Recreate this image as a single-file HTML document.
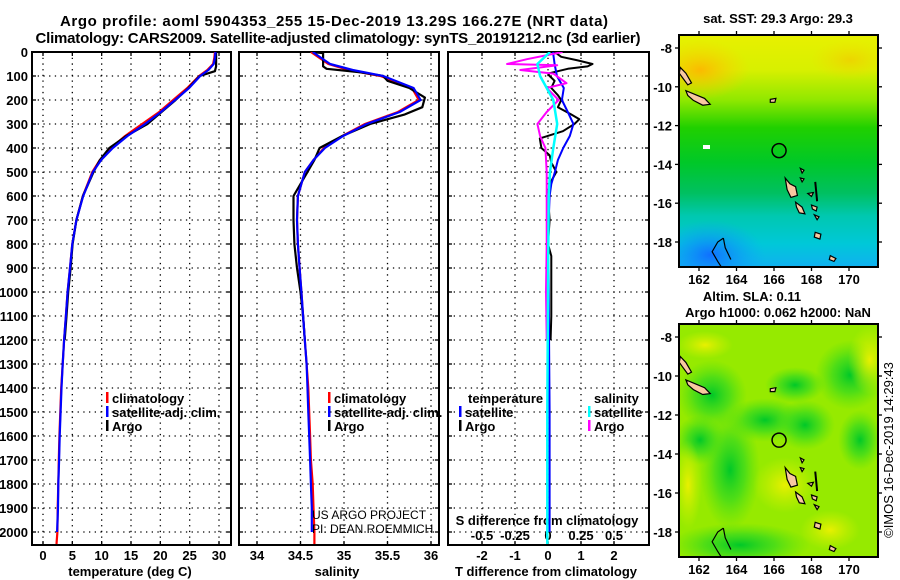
<!DOCTYPE html>
<html><head><meta charset="utf-8"><style>
html,body{margin:0;padding:0;background:#fff;}
svg{display:block;font-family:"Liberation Sans",sans-serif;}
</style></head><body>
<svg id="root" width="900" height="580" viewBox="0 0 900 580" xmlns="http://www.w3.org/2000/svg">
<defs>
<clipPath id="c1"><rect x="32" y="52" width="199" height="493"/></clipPath>
<clipPath id="c2"><rect x="239" y="52" width="200" height="493"/></clipPath>
<clipPath id="c3"><rect x="448" y="52" width="201" height="493"/></clipPath>
<clipPath id="m1"><rect x="679" y="35" width="199" height="232"/></clipPath>
<clipPath id="m2"><rect x="679" y="324" width="199" height="233"/></clipPath>
<linearGradient id="sstg" x1="0" y1="0" x2="0" y2="1">
<stop offset="0" stop-color="#e8f000"/><stop offset="0.15" stop-color="#d8f000"/>
<stop offset="0.28" stop-color="#90e800"/><stop offset="0.4" stop-color="#20d000"/>
<stop offset="0.55" stop-color="#00c828"/><stop offset="0.68" stop-color="#00c060"/>
<stop offset="0.78" stop-color="#00c8b0"/><stop offset="0.9" stop-color="#00c8d8"/>
<stop offset="1" stop-color="#10b0f0"/></linearGradient>
<radialGradient id="org"><stop offset="0" stop-color="#ffb400" stop-opacity="0.9"/><stop offset="1" stop-color="#ffd000" stop-opacity="0"/></radialGradient>
<radialGradient id="blu"><stop offset="0" stop-color="#1070ff" stop-opacity="1"/><stop offset="1" stop-color="#10a0ff" stop-opacity="0"/></radialGradient>
<radialGradient id="grn"><stop offset="0" stop-color="#00c828" stop-opacity="1"/><stop offset="0.5" stop-color="#30d820" stop-opacity="0.7"/><stop offset="1" stop-color="#50e010" stop-opacity="0"/></radialGradient>
<radialGradient id="yel"><stop offset="0" stop-color="#e8f000" stop-opacity="1"/><stop offset="1" stop-color="#d0f000" stop-opacity="0"/></radialGradient>
</defs>
</svg>
<script>
// ---------- data ----------
const depthTicks = [0,100,200,300,400,500,600,700,800,900,1000,1100,1200,1300,1400,1500,1600,1700,1800,1900,2000];
const tempTicks = [0,5,10,15,20,25,30];
const salTicks = [34,34.5,35,35.5,36];
const salTickLabels = ["34","34.5","35","35.5","36"];
const tdiffTicks = [-2,-1,0,1,2];
const sdiffTicks = [-0.5,-0.25,0,0.25,0.5];
const sdiffTickLabels = ["-0.5","-0.25","0","0.25","0.5"];

const climDepth = [0,25,50,75,100,150,200,250,300,350,400,450,500,600,700,800,900,1000,1100,1200,1300,1400,1500,1600,1700,1800,1900,2000,2050];
const climT = [29.3,29.2,29.0,28.0,26.6,24.6,22.2,19.8,16.9,14.0,11.6,9.7,8.4,6.8,5.7,5.0,4.6,4.2,3.9,3.6,3.35,3.1,2.95,2.8,2.7,2.6,2.5,2.45,2.3];
const satT   = [29.4,29.3,29.1,28.2,26.8,24.9,22.5,20.1,17.4,14.4,11.9,9.9,8.5,6.85,5.7,5.0,4.6,4.2,3.9,3.6,3.35,3.15,3.0,2.85,2.75,2.6,2.55,2.4];
const argoTDepth = [0,60,80,90,100,150,200,250,300,350,400,450,500,600,700,800,900,1000,1100,1200];
const argoT = [29.5,29.5,29.3,28.0,26.7,24.8,22.6,20.2,17.8,14.2,11.3,9.7,8.6,6.8,5.7,5.05,4.7,4.3,4.0,3.7];

const climS = [34.62,34.72,34.82,35.05,35.42,35.78,35.86,35.62,35.24,34.98,34.77,34.65,34.55,34.47,34.46,34.47,34.49,34.51,34.53,34.55,34.57,34.59,34.6,34.61,34.62,34.64,34.65,34.66,34.66];
const satS  = [34.64,34.74,34.84,35.1,35.45,35.8,35.88,35.64,35.26,34.99,34.78,34.65,34.55,34.47,34.46,34.47,34.49,34.51,34.53,34.55,34.57,34.58,34.59,34.6,34.61,34.62,34.63,34.63];
const argoSDepth = [0,5,60,70,85,100,120,150,190,230,260,300,350,400,450,500,600,700,800,900,1000,1100,1200];
const argoS = [34.64,34.76,34.76,34.80,35.2,35.45,35.5,35.75,35.93,35.9,35.7,35.3,34.98,34.72,34.66,34.58,34.42,34.42,34.43,34.46,34.5,34.53,34.55];

const tSatDepth = [0,50,100,150,200,250,300,350,400,450,500,550,600,700,800,1000,1500,2000];
const tSatDiff = [0.15,0.2,0.27,0.48,0.42,0.6,0.77,0.66,0.46,0.3,0.21,0.1,0.05,0.02,0.01,0.02,0.05,0.05];
const tArgoDepth = [0,20,35,50,60,70,80,90,100,120,150,180,200,230,260,280,300,330,360,400,430,460,500,550,600,700,800,850,900,1000,1100,1200];
const tArgoDiff = [0.2,0.4,0.9,1.35,1.2,0.6,0.3,0,0.05,0.2,0.1,0.3,0.4,0.3,0.7,0.95,0.8,0.45,-0.25,-0.2,0.05,0.1,0.25,0.05,0,0.05,0,0.1,0.1,0.1,0.1,0.08];
const sSatDepth = [0,50,100,150,200,300,400,500,600,1000,1500,2050];
const sSatDiff = [0.015,-0.08,-0.06,-0.01,0.04,0.07,0.04,0.015,0.005,0,-0.005,-0.005];
const sArgoDepth = [0,30,50,55,75,90,130,150,200,250,300,350,400,500,700,800,1000,1200];
const sArgoDiff = [0.11,-0.16,-0.31,0.07,-0.21,0.04,0.14,-0.01,0.08,-0.01,-0.08,-0.06,-0.02,-0.01,-0.01,-0.01,-0.015,-0.01];

const lonTicks = [162,164,166,168,170];
const latTicks = [-8,-10,-12,-14,-16,-18];

// ---------- scales ----------
const NS="http://www.w3.org/2000/svg";
const root=document.getElementById('root');
const yD = d => 52 + d*0.24;
const xT = t => 43 + t*5.8667;
const xS = s => 257 + (s-34)*87;
const xTd = v => 548 + v*33;
const xSd = v => 548 + v*132;
const mx = lon => 699 + (lon-162)*18.75;
const my1 = lat => 48 + (-8-lat)*19.4;
const my2 = lat => 337 + (-8-lat)*19.5;

function el(tag, attrs, parent){const e=document.createElementNS(NS,tag);for(const k in attrs)e.setAttribute(k,attrs[k]);(parent||root).appendChild(e);return e;}
function txt(x,y,s,size,anchor,bold,parent){const e=el('text',{x:x,y:y,'font-size':size,'text-anchor':anchor||'start','font-weight':bold===false?'normal':'bold',fill:'#000'},parent);e.textContent=s;return e;}

// ---------- titles ----------
let t1=txt(334,26,"Argo profile: aoml 5904353_255 15-Dec-2019 13.29S 166.27E (NRT data)",15,'middle');


t1.setAttribute('textLength','548');
let t2=txt(338,43,"Climatology: CARS2009. Satellite-adjusted climatology: synTS_20191212.nc (3d earlier)",15,'middle');


t2.setAttribute('textLength','605');

// ---------- panels ----------
const panels=[{x0:32,x1:231,clip:'c1',name:'temperature-panel'},{x0:239,x1:439,clip:'c2',name:'salinity-panel'},{x0:448,x1:649,clip:'c3',name:'difference-panel'}];
const gridX=[tempTicks.map(xT), salTicks.map(xS), tdiffTicks.map(xTd)];
panels.forEach((p,i)=>{
  const g=el('g',{});
  
  
  depthTicks.forEach(d=>{ if(d>0){ const l=el('line',{x1:p.x0,x2:p.x1,y1:yD(d),y2:yD(d),stroke:'#000','stroke-width':1.3,'stroke-dasharray':'1.3 4.4'},g);
    
    }
    el('line',{x1:p.x0,x2:p.x0+4,y1:yD(d),y2:yD(d),stroke:'#000','stroke-width':1.3},g);
    el('line',{x1:p.x1-4,x2:p.x1,y1:yD(d),y2:yD(d),stroke:'#000','stroke-width':1.3},g);
  });
  gridX[i].forEach(x=>{ const l=el('line',{x1:x,x2:x,y1:52,y2:545,stroke:'#000','stroke-width':1.3,'stroke-dasharray':'1.3 4.4'},g);
    
    
    el('line',{x1:x,x2:x,y1:541,y2:545,stroke:'#000','stroke-width':1.3},g);
    el('line',{x1:x,x2:x,y1:52,y2:56,stroke:'#000','stroke-width':1.3},g);
  });
  const r=el('rect',{x:p.x0,y:52,width:p.x1-p.x0,height:493,fill:'none',stroke:'#000','stroke-width':2},g);
  
  
});

depthTicks.forEach(d=>{ const t=txt(28,yD(d)+5,String(d),13,'end');
  
  });
tempTicks.forEach(v=>{ const t=txt(xT(v),560,String(v),13,'middle');
  
  });
salTicks.forEach((v,i)=>{ const t=txt(xS(v),560,salTickLabels[i],13,'middle');
  
  });
tdiffTicks.forEach(v=>{ const t=txt(xTd(v),560,String(v),13,'middle');
  
  });
sdiffTicks.forEach((v,i)=>{ const t=txt(xSd(v),540,sdiffTickLabels[i],13,'middle');
  
  });
let a1=txt(130,576,"temperature (deg C)",13,'middle');


let a2=txt(337,576,"salinity",13,'middle');


let a3=txt(546,576,"T difference from climatology",13,'middle');


let a4=txt(547,525,"S difference from climatology",13,'middle');



// ---------- lines ----------
function line(depths, vals, xf, color, clip, name, w){
  const pts=depths.map((d,i)=>xf(vals[i]).toFixed(1)+','+yD(d).toFixed(1)).join(' ');
  const l=el('polyline',{points:pts,fill:'none',stroke:color,'stroke-width':w||2.2,'clip-path':'url(#'+clip+')','stroke-linejoin':'round'});
  
  
}
line(climDepth,climT,xT,'#ff0000','c1','temperature-climatology-line');
line(argoTDepth,argoT,xT,'#000000','c1','temperature-argo-line');
line(climDepth.slice(0,satT.length),satT,xT,'#0000ff','c1','temperature-satellite-line');
line(climDepth,climS,xS,'#ff0000','c2','salinity-climatology-line');
line(argoSDepth,argoS,xS,'#000000','c2','salinity-argo-line');
line(climDepth.slice(0,satS.length),satS,xS,'#0000ff','c2','salinity-satellite-line');
line(tArgoDepth,tArgoDiff,xTd,'#000000','c3','t-diff-argo-line',2);
line(tSatDepth,tSatDiff,xTd,'#0000ff','c3','t-diff-satellite-line',2);
line(sArgoDepth,sArgoDiff,xSd,'#ff00ff','c3','s-diff-argo-line',2);
line(sSatDepth,sSatDiff,xSd,'#00ffff','c3','s-diff-satellite-line',2.5);

// ---------- legends ----------
function legItem(x,y,color,label,name){
  const g=el('g',{});
  
  
  el('rect',{x:x,y:y-11,width:2.5,height:11,fill:color},g);
  txt(x+6,y,label,13,'start',true,g);
}
legItem(106,403,'#ff0000','climatology','legend-climatology');
legItem(106,417,'#0000ff','satellite-adj. clim.','legend-satellite-adj');
legItem(106,431,'#000000','Argo','legend-argo');
legItem(328,403,'#ff0000','climatology','legend-climatology-2');
legItem(328,417,'#0000ff','satellite-adj. clim.','legend-satellite-adj-2');
legItem(328,431,'#000000','Argo','legend-argo-2');
let lt=txt(468,403,"temperature",13,'start');


let ls=txt(594,403,"salinity",13,'start');


legItem(459,417,'#0000ff','satellite','legend-t-satellite');
legItem(459,431,'#000000','Argo','legend-t-argo');
legItem(588,417,'#00ffff','satellite','legend-s-satellite');
legItem(588,431,'#ff00ff','Argo','legend-s-argo');
let p1=txt(312,519,"US ARGO PROJECT",12,'start',false);


let p2=txt(312,533,"PI: DEAN ROEMMICH",12,'start',false);



// ---------- maps ----------
function island(pts,parent,my){const p=el('polygon',{points:pts.map(q=>mx(q[0]).toFixed(1)+','+my(q[1]).toFixed(1)).join(' '),fill:'#f8c8a0',stroke:'#000','stroke-width':1.2},parent);return p;}
const islands=[
 [[161,-9.0],[161.3,-9.3],[161.6,-9.8],[161.4,-9.9],[161.1,-9.5],[160.95,-9.3]],
 [[161.3,-10.2],[161.8,-10.4],[162.3,-10.6],[162.6,-10.9],[162.2,-10.95],[161.7,-10.7],[161.4,-10.45]],
 [[166.6,-14.7],[166.85,-15.0],[167.15,-15.15],[167.25,-15.6],[166.9,-15.7],[166.7,-15.3]],
 [[167.15,-15.95],[167.5,-16.2],[167.65,-16.55],[167.35,-16.5],[167.2,-16.2]],
 [[168.2,-17.5],[168.5,-17.6],[168.45,-17.85],[168.15,-17.75]],
 [[169.0,-18.7],[169.3,-18.85],[169.2,-19.0],[168.95,-18.9]],
 [[167.4,-14.2],[167.6,-14.3],[167.5,-14.45]],
 [[167.4,-14.7],[167.6,-14.75],[167.5,-14.9]],
 [[165.8,-10.65],[166.1,-10.6],[166.05,-10.8],[165.8,-10.8]],
 [[167.8,-15.5],[168.1,-15.45],[168.0,-15.65]],
 [[168.0,-16.1],[168.3,-16.2],[168.25,-16.4],[168.05,-16.3]],
 [[168.15,-16.6],[168.4,-16.7],[168.3,-16.85]]
];
function drawMap(my,clip,top,h,bgFn,name){
  const g=el('g',{'clip-path':'url(#'+clip+')'});
  
  
  bgFn(g);
  islands.forEach(pp=>{const p=island(pp,g,my);
    
    });
  el('polyline',{points:[[168.2,-14.9],[168.25,-15.4],[168.3,-15.9]].map(q=>mx(q[0])+','+my(q[1])).join(' '),fill:'none',stroke:'#000','stroke-width':2},g);
  el('path',{d:`M${mx(163.3)},${my(-17.8)} L${mx(163.0)},${my(-18.0)} L${mx(162.7)},${my(-18.5)} L${mx(163.0)},${my(-19.0)} L${mx(163.2)},${my(-19.3)} M${mx(163.3)},${my(-17.8)} L${mx(163.4)},${my(-18.3)} L${mx(163.7)},${my(-18.9)}`,fill:'none',stroke:'#000','stroke-width':1.2},g);
  const c=el('circle',{cx:mx(166.27),cy:my(-13.29),r:7,fill:'none',stroke:'#000','stroke-width':1.5},g);
  
  
  const f=el('rect',{x:679,y:top,width:199,height:h,fill:'none',stroke:'#000','stroke-width':2});
  
  
  lonTicks.forEach(lon=>{ el('line',{x1:mx(lon),x2:mx(lon),y1:top+h,y2:top+h+4,stroke:'#000','stroke-width':1.3});
    el('line',{x1:mx(lon),x2:mx(lon),y1:top-4,y2:top,stroke:'#000','stroke-width':1.3});
    const t=txt(mx(lon),top+h+17,String(lon),13,'middle');
    
    });
  latTicks.forEach(lat=>{ el('line',{x1:675,x2:679,y1:my(lat),y2:my(lat),stroke:'#000','stroke-width':1.3});
    el('line',{x1:878,x2:882,y1:my(lat),y2:my(lat),stroke:'#000','stroke-width':1.3});
    const t=txt(672,my(lat)+5,String(lat),13,'end');
    
    });
}
drawMap(my1,'m1',35,232,g=>{
  el('rect',{x:679,y:35,width:199,height:232,fill:'url(#sstg)'},g);
  el('ellipse',{cx:700,cy:70,rx:50,ry:30,fill:'url(#org)'},g);
  el('ellipse',{cx:850,cy:60,rx:40,ry:20,fill:'url(#org)',opacity:0.5},g);
  el('ellipse',{cx:710,cy:255,rx:55,ry:35,fill:'url(#blu)'},g);
  el('rect',{x:703,y:145,width:7,height:4,fill:'#fff'},g);
},'sst-map');
drawMap(my2,'m2',324,233,g=>{
  el('rect',{x:679,y:324,width:199,height:233,fill:'#96ea00'},g);
  [[712,395,35,35],[730,470,30,60],[850,375,35,35],[765,420,40,22],[805,425,30,25],[740,545,70,22],[860,440,22,30],[795,385,30,18],[700,440,25,25]].forEach(b=>el('ellipse',{cx:b[0],cy:b[1],rx:b[2],ry:b[3],fill:'url(#grn)'},g));
  [[870,360,22,35],[688,485,14,45],[785,485,32,28],[705,345,28,14],[830,530,30,20]].forEach(b=>el('ellipse',{cx:b[0],cy:b[1],rx:b[2],ry:b[3],fill:'url(#yel)'},g));
},'sla-map');
let m1t=txt(778,23,"sat. SST: 29.3 Argo: 29.3",13,'middle');


let m2t=txt(752,301,"Altim. SLA: 0.11",13,'middle');


let m3t=txt(778,317,"Argo h1000: 0.062 h2000: NaN",13,'middle');


let cr=txt(0,0,"©IMOS 16-Dec-2019 14:29:43",13,'middle',false);
cr.setAttribute('transform','translate(893,450) rotate(-90)');


</script>
</body></html>
